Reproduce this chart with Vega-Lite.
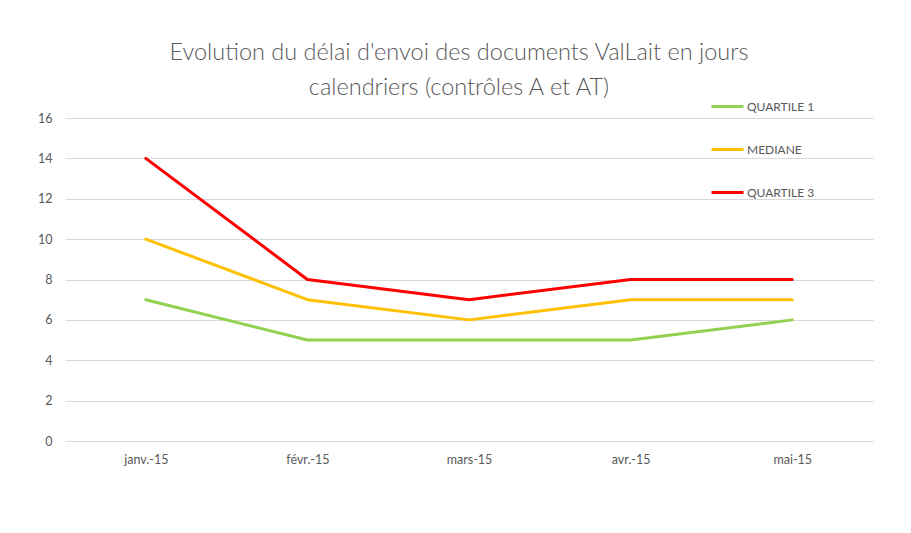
{
  "$schema": "https://vega.github.io/schema/vega-lite/v6.json",
  "autosize": "none",
  "width": 808,
  "height": 323,
  "padding": {"left": 65, "top": 118, "right": 38, "bottom": 92},
  "background": "white",
  "title": {
    "text": ["Evolution du délai d'envoi des documents  ValLait en jours", "calendriers (contrôles A et AT)"],
    "font": "Lato",
    "fontSize": 23.5,
    "fontWeight": 300,
    "color": "#595959",
    "anchor": "middle",
    "dx": -10,
    "offset": -10,
    "lineHeight": 35
  },
  "data": {
    "values": [
      {"mois": "janv.-15", "serie": "QUARTILE 1", "valeur": 7},
      {"mois": "févr.-15", "serie": "QUARTILE 1", "valeur": 5},
      {"mois": "mars-15", "serie": "QUARTILE 1", "valeur": 5},
      {"mois": "avr.-15", "serie": "QUARTILE 1", "valeur": 5},
      {"mois": "mai-15", "serie": "QUARTILE 1", "valeur": 6},
      {"mois": "janv.-15", "serie": "MEDIANE", "valeur": 10},
      {"mois": "févr.-15", "serie": "MEDIANE", "valeur": 7},
      {"mois": "mars-15", "serie": "MEDIANE", "valeur": 6},
      {"mois": "avr.-15", "serie": "MEDIANE", "valeur": 7},
      {"mois": "mai-15", "serie": "MEDIANE", "valeur": 7},
      {"mois": "janv.-15", "serie": "QUARTILE 3", "valeur": 14},
      {"mois": "févr.-15", "serie": "QUARTILE 3", "valeur": 8},
      {"mois": "mars-15", "serie": "QUARTILE 3", "valeur": 7},
      {"mois": "avr.-15", "serie": "QUARTILE 3", "valeur": 8},
      {"mois": "mai-15", "serie": "QUARTILE 3", "valeur": 8}
    ]
  },
  "mark": {"type": "line", "strokeWidth": 3, "strokeCap": "round", "strokeJoin": "round"},
  "encoding": {
    "x": {
      "field": "mois",
      "type": "ordinal",
      "sort": ["janv.-15", "févr.-15", "mars-15", "avr.-15", "mai-15"],
      "scale": {"type": "point", "padding": 0.5},
      "axis": {"title": null, "labelAngle": 0, "ticks": false, "domain": false, "grid": false, "labelPadding": 12}
    },
    "y": {
      "field": "valeur",
      "type": "quantitative",
      "scale": {"domain": [0, 16]},
      "axis": {"title": null, "values": [0, 2, 4, 6, 8, 10, 12, 14, 16], "ticks": false, "domain": false, "labelPadding": 13, "gridColor": "#d9d9d9", "gridWidth": 1}
    },
    "color": {
      "field": "serie",
      "type": "nominal",
      "sort": ["QUARTILE 1", "MEDIANE", "QUARTILE 3"],
      "scale": {"domain": ["QUARTILE 1", "MEDIANE", "QUARTILE 3"], "range": ["#92d050", "#ffc000", "#ff0000"]},
      "legend": {
        "title": null,
        "orient": "none",
        "legendX": 645,
        "legendY": -29,
        "direction": "vertical",
        "symbolType": "stroke",
        "symbolSize": 1024,
        "symbolStrokeWidth": 3,
        "labelOffset": 2,
        "rowPadding": 19,
        "labelFont": "Lato",
        "labelFontSize": 12,
        "labelColor": "#595959"
      }
    }
  },
  "config": {
    "view": {"stroke": null},
    "axis": {"labelFont": "Lato", "labelFontSize": 12.5, "labelColor": "#595959"}
  }
}
